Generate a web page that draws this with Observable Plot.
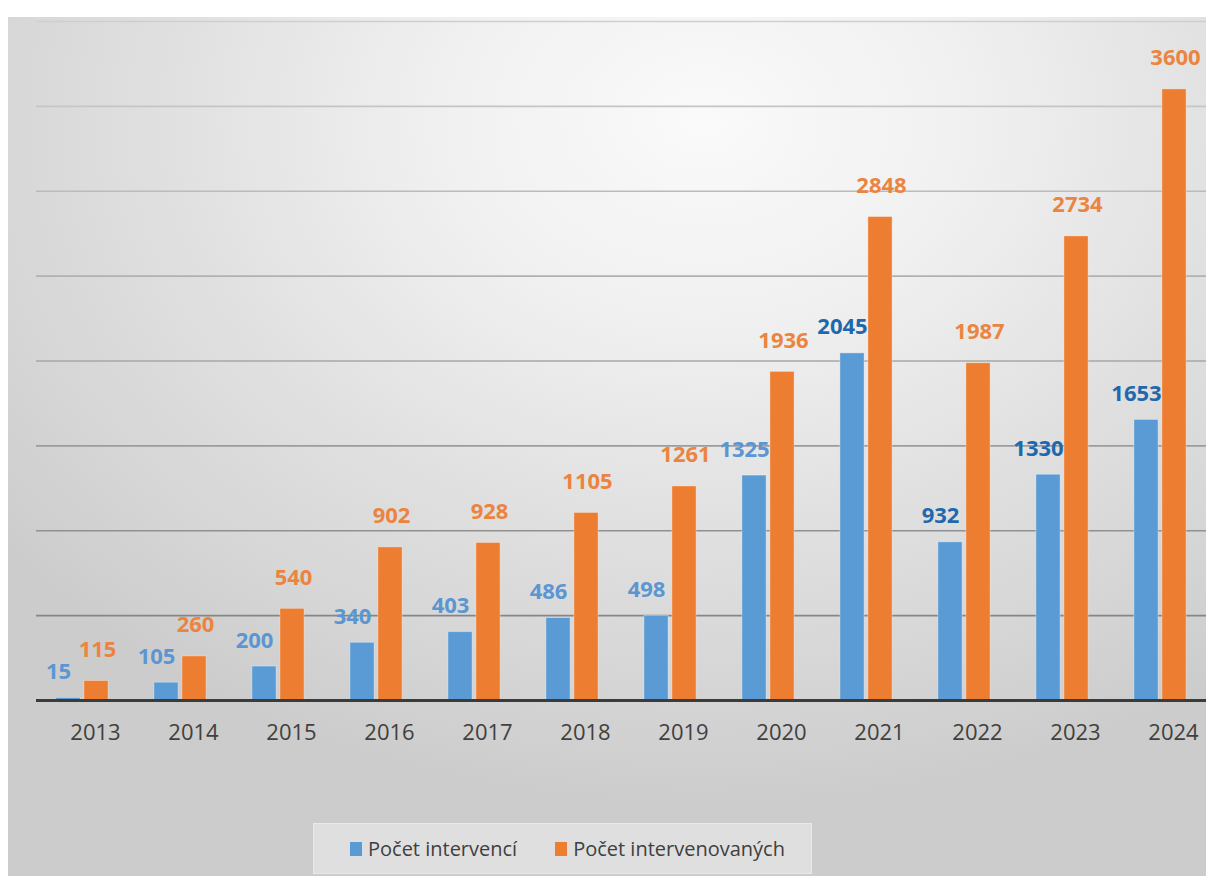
<!DOCTYPE html>
<html>
<head>
<meta charset="utf-8">
<script src="https://cdn.jsdelivr.net/npm/d3@7"></script>
<script src="https://cdn.jsdelivr.net/npm/@observablehq/plot@0.6"></script>
<style>
  html, body { margin: 0; padding: 0; background: #ffffff; overflow: hidden; }
  #root { position: relative; width: 1206px; height: 876px; overflow: hidden; background: #ffffff; font-family: "Open Sans", sans-serif; }
  #bg { position: absolute; left: 8px; top: 17px; right: 0; bottom: 0;
        background: radial-gradient(ellipse 75% 80% at 58% 12%, #fafafa 0%, #f0f0f0 30%, #e0e0e0 60%, #d4d4d4 85%, #cccccc 100%); }
  #chart { position: absolute; left: 0; top: 0; width: 1214px; }
  #chart svg { max-width: none !important; width: 1214px; height: 760px; }
  #legend { position: absolute; left: 313px; top: 823px; width: 497px; height: 49px;
            background: #dfdfdf; border: 1px solid #e9e9e9; display: flex; align-items: center;
            color: #404040; font-size: 20px; }
  .item { display: flex; align-items: center; }
  .sw { width: 12px; height: 14px; margin-right: 6px; }
</style>
</head>
<body>
<div id="root">
  <div id="bg"></div>
  <div id="chart"></div>
  <div id="legend"></div>
</div>
<script>
const years = ["2013","2014","2015","2016","2017","2018","2019","2020","2021","2022","2023","2024"];
const interventions = [15, 105, 200, 340, 403, 486, 498, 1325, 2045, 932, 1330, 1653];
const intervened = [115, 260, 540, 902, 928, 1105, 1261, 1936, 2848, 1987, 2734, 3600];
const seriesNames = ["Počet intervencí", "Počet intervenovaných"];
const seriesColors = ["#5b9bd5", "#ed7d31"];
const yGrid = [500, 1000, 1500, 2000, 2500, 3000, 3500, 4000];

const blueRows = years.map((y, i) => ({year: y, series: seriesNames[0], value: interventions[i]}));
const orangeRows = years.map((y, i) => ({year: y, series: seriesNames[1], value: intervened[i]}));

const chart = Plot.plot({
  width: 1214,
  height: 760,
  marginLeft: 36,
  marginRight: 0,
  marginTop: 21,
  marginBottom: 60,
  style: {background: "transparent", fontFamily: "'Open Sans', sans-serif", color: "#404040", overflow: "visible"},
  x: {type: "band", domain: years, range: [28.1, 1213.7], padding: 0, label: null},
  y: {domain: [0, 4000], axis: null},
  marks: [
    Plot.ruleY(yGrid, {stroke: "#999999", strokeWidth: 1.6}),
    Plot.barY(blueRows, {x: "year", y: "value", fill: seriesColors[0], insetLeft: 22.9, insetRight: 50.9,
      stroke: "#ffffff", strokeOpacity: 0.35, strokeWidth: 1}),
    Plot.barY(orangeRows, {x: "year", y: "value", fill: seriesColors[1], insetLeft: 50.9, insetRight: 22.9,
      stroke: "#ffffff", strokeOpacity: 0.35, strokeWidth: 1}),
    Plot.ruleY([0], {stroke: "#3b3b3b", strokeWidth: 3}),
    Plot.text(blueRows, {x: "year", y: "value", text: d => String(d.value), dx: -24, dy: -26,
      fill: d => (+d.year >= 2021 ? "#1f68ad" : "#5b96d3"), fontSize: 22, fontWeight: "bold"}),
    Plot.text(orangeRows, {x: "year", y: "value", text: d => String(d.value), dx: 15, dy: -31,
      fill: "#ec8441", fontSize: 22, fontWeight: "bold"}),
    Plot.axisX({tickSize: 0, tickPadding: 24, fontSize: 22, dx: 13, fill: "#404040", label: null})
  ]
});

// vertical gradient for the gridlines (lighter at top, darker near the base)
const ns = "http://www.w3.org/2000/svg";
const defs = document.createElementNS(ns, "defs");
defs.innerHTML = '<linearGradient id="gridGrad" gradientUnits="userSpaceOnUse" x1="0" y1="21" x2="0" y2="700">' +
  '<stop offset="0" stop-color="#cfcfcf"/><stop offset="0.55" stop-color="#a3a3a3"/><stop offset="1" stop-color="#7a7a7a"/></linearGradient>';
chart.insertBefore(defs, chart.firstChild);
const ruleGroups = chart.querySelectorAll('g[aria-label="rule"]');
if (ruleGroups.length) ruleGroups[0].setAttribute("stroke", "url(#gridGrad)");

document.getElementById("chart").appendChild(chart);

const legend = document.getElementById("legend");
seriesNames.forEach((name, i) => {
  const item = document.createElement("div");
  item.className = "item";
  item.style.marginLeft = i === 0 ? "36px" : "38px";
  const sw = document.createElement("span");
  sw.className = "sw";
  sw.style.background = seriesColors[i];
  const label = document.createElement("span");
  label.textContent = name;
  item.appendChild(sw);
  item.appendChild(label);
  legend.appendChild(item);
});
</script>
</body>
</html>
